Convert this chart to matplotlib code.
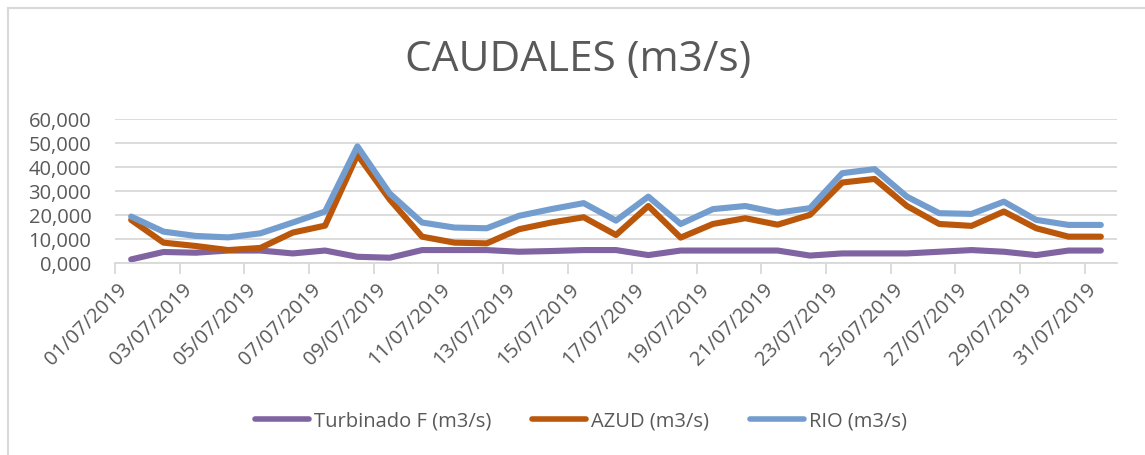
import matplotlib
matplotlib.use("Agg")
import matplotlib.pyplot as plt
from matplotlib.lines import Line2D
from matplotlib.ticker import FuncFormatter, FixedLocator, FixedFormatter

plt.rcParams['font.family'] = ['Open Sans', 'DejaVu Sans']

dates = [f"{d:02d}/07/2019" for d in range(1, 32)]
turbinado = [1.5, 4.6, 4.3, 5.2, 5.2, 4.0, 5.2, 2.6, 2.2, 5.4, 5.4, 5.4, 4.7, 5.0, 5.4,
             5.4, 3.3, 5.2, 5.2, 5.2, 5.2, 3.1, 4.0, 4.0, 4.0, 4.7, 5.4, 4.7, 3.3, 5.2, 5.2]
azud = [18.0, 8.5, 7.1, 5.4, 6.3, 12.7, 15.6, 45.2, 26.5, 11.0, 8.5, 8.2, 14.1, 16.9, 19.1,
        11.7, 23.8, 10.6, 16.3, 18.7, 16.0, 20.1, 33.6, 35.1, 23.8, 16.3, 15.5, 21.5, 14.5, 11.0, 11.0]
rio = [19.4, 13.1, 11.3, 10.7, 12.4, 16.9, 21.5, 48.7, 29.0, 16.9, 14.8, 14.5, 19.7, 22.5, 25.0,
       17.7, 27.7, 16.3, 22.5, 23.8, 21.0, 22.9, 37.5, 39.2, 27.7, 20.8, 20.5, 25.6, 18.0, 15.9, 15.9]
series_names = ["Turbinado F (m3/s)", "AZUD (m3/s)", "RIO (m3/s)"]
colors = ["#8064A2", "#BA570A", "#739DCE"]
yticks = [0, 10, 20, 30, 40, 50, 60]

W, H = 1145, 455
fig = plt.figure(figsize=(W / 100, H / 100), dpi=100)
ax = fig.add_axes([115 / W, 1 - 263 / H, (1117 - 115) / W, (263 - 119.3) / H])

x = list(range(len(dates)))
for vals, name, c in zip([turbinado, azud, rio], series_names, colors):
    ax.plot(x, vals, color=c, lw=4.4, label=name, solid_capstyle='round', solid_joinstyle='round')

ax.set_xlim(-0.5, len(dates) - 0.5)
ax.set_ylim(0, 60)
ax.set_yticks(yticks)
ax.yaxis.set_major_formatter(FuncFormatter(lambda v, p: f"{v:.3f}".replace('.', ',')))
ax.yaxis.grid(True, color="#D9D9D9", lw=1.3)
ax.set_axisbelow(True)

# tick marks at category boundaries, labels at every second category
label_pos = list(range(0, len(dates), 2))
ax.xaxis.set_major_locator(FixedLocator([i - 0.5 for i in label_pos]))
ax.xaxis.set_major_formatter(FuncFormatter(lambda v, p: ""))
ax.xaxis.set_minor_locator(FixedLocator(label_pos))
ax.xaxis.set_minor_formatter(FixedFormatter([dates[i] for i in label_pos]))
ax.tick_params(axis='x', which='major', length=8, width=1.3, color="#D9D9D9", direction='out')
ax.tick_params(axis='x', which='minor', length=0, pad=12, labelsize=14.5, labelcolor="#595959",
               labelrotation=45)
fig.canvas.draw()
for lbl in ax.xaxis.get_minorticklabels():
    lbl.set_ha('right')
    lbl.set_va('top')
    lbl.set_rotation_mode('default')
ax.tick_params(axis='y', length=0, pad=17, labelsize=14.5, labelcolor="#595959")

for s in ['top', 'right', 'left']:
    ax.spines[s].set_visible(False)
ax.spines['bottom'].set_color("#D9D9D9")
ax.spines['bottom'].set_linewidth(1.3)

fig.text(578 / W, 1 - 60 / H, "CAUDALES (m3/s)", ha='center', va='center',
         fontsize=30.5, color="#595959")

leg = fig.legend(loc='center', bbox_to_anchor=(581 / W, 1 - 421 / H), ncol=3, frameon=False,
                 fontsize=14.5, handlelength=2.7, handletextpad=0.25, columnspacing=2.0,
                 labelcolor="#595959")
for h in leg.get_lines():
    h.set_linewidth(4)

# chart border (left and top visible)
fig.add_artist(Line2D([8 / W, 8 / W], [0, 1 - 8 / H], color="#D9D9D9", lw=1.5, transform=fig.transFigure))
fig.add_artist(Line2D([8 / W, 1], [1 - 8 / H, 1 - 8 / H], color="#D9D9D9", lw=1.5, transform=fig.transFigure))

fig.savefig("out.png", dpi=100)
